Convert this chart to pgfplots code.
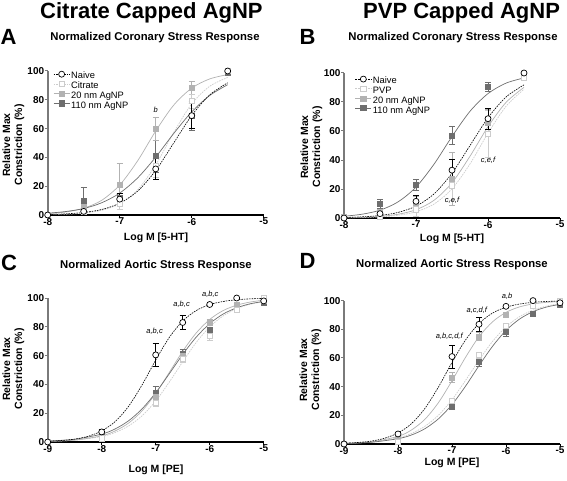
\documentclass[border=0pt]{standalone}
\usepackage{fontspec}
\setmainfont{Liberation Sans}
\usepackage{pgfplots}
\pgfplotsset{compat=1.18}
\definecolor{c20}{HTML}{B2B2B2}
\definecolor{c110}{HTML}{6E6E6E}
\definecolor{ccit}{HTML}{CCCCCC}
\definecolor{yax}{HTML}{7A7A7A}
\tikzset{ann/.style={font=\itshape\fontsize{7.5}{9}\selectfont, inner sep=0pt}}
\pgfplotsset{
 panel/.style={scale only axis, width=216pt, height=144pt, ymin=0, ymax=100,
   axis x line*=bottom, axis y line*=left, clip=false, tick align=outside,
   major tick length=3pt, ytick={0,20,40,60,80,100},
   ticklabel style={font=\bfseries\fontsize{10}{12}\selectfont},
   xticklabel style={yshift=3.5pt}, yticklabel style={xshift=3pt},
   /pgf/number format/assume math mode=true,
   x axis line style={line width=1.2pt, black}, y axis line style={line width=1.8pt, yax},
   xtick style={line width=1pt, black}, ytick style={line width=1pt, yax},
   legend cell align=left,
   legend style={draw=none, fill=none, anchor=north west, font=\fontsize{9.3}{9.4}\selectfont,
     row sep=0pt, column sep=1pt, inner sep=0pt,
     nodes={font=\fontsize{9.3}{9.4}\selectfont, inner sep=0.2pt, text height=6.9pt, text depth=2.1pt}},
   legend image code/.code={\draw[mark repeat=2,mark phase=2,##1] plot coordinates {(0pt,2.4pt) (8pt,2.4pt) (16pt,2.4pt)};}},
 sNaive/.style={black, line width=0.6pt, dash pattern=on 1.6pt off 1pt},
 sCit/.style={ccit, line width=0.7pt, dash pattern=on 1.6pt off 1pt},
 sTwenty/.style={c20, line width=0.7pt},
 sHund/.style={c110, line width=0.7pt},
 mNaive/.style={mark=*, mark size=3pt, mark options={solid, fill=white, draw=black, line width=0.7pt}},
 mCit/.style={mark=square*, mark size=2.6pt, mark options={solid, fill=white, draw=ccit, line width=0.7pt}},
 mTwenty/.style={mark=square*, mark size=2.6pt, mark options={solid, fill=c20, draw=c20}},
 mHund/.style={mark=square*, mark size=2.6pt, mark options={solid, fill=c110, draw=c110}},
 eb/.style={error bars/y dir=both, error bars/y explicit,
   error bars/error bar style={#1, line width=0.6pt, solid},
   error bars/error mark options={rotate=90, #1, mark size=3pt, line width=0.6pt}},
}
\newcommand{\ttlfont}{\bfseries\fontsize{22}{26}\selectfont}
\newcommand{\subfont}{\bfseries\fontsize{11.3}{13}\selectfont}
\newcommand{\labfont}{\bfseries\fontsize{10.5}{12}\selectfont}
\begin{document}
\begin{tikzpicture}
\path[use as bounding box] (0pt,0pt) rectangle (567pt,480pt);
% titles
\node[font=\ttlfont, anchor=west, inner sep=0pt] at (40pt,467pt) {Citrate Capped AgNP};
\node[font=\ttlfont, anchor=west, inner sep=0pt] at (363pt,467pt) {PVP Capped AgNP};
\node[font=\ttlfont] at (8.5pt,443.5pt) {A};
\node[font=\ttlfont] at (307.5pt,443pt) {B};
\node[font=\ttlfont] at (9pt,217.5pt) {C};
\node[font=\ttlfont] at (307.5pt,219pt) {D};
\node[font=\subfont] at (155pt,442.5pt) {Normalized Coronary Stress Response};
\node[font=\subfont] at (453pt,442.5pt) {Normalized Coronary Stress Response};
\node[font=\subfont] at (156pt,214pt) {Normalized Aortic Stress Response};
\node[font=\subfont] at (452pt,215pt) {Normalized Aortic Stress Response};
% axis labels
\node[font=\labfont, rotate=90, align=center] at (13.5pt,335pt) {Relative Max\\Constriction (\%)};
\node[font=\labfont, rotate=90, align=center] at (311.5pt,333pt) {Relative Max\\Constriction (\%)};
\node[font=\labfont, rotate=90, align=center] at (13.5pt,111pt) {Relative Max\\Constriction (\%)};
\node[font=\labfont, rotate=90, align=center] at (310.5pt,110pt) {Relative Max\\Constriction (\%)};
\node[font=\labfont] at (156pt,242pt) {Log M [5-HT]};
\node[font=\labfont] at (452pt,241pt) {Log M [5-HT]};
\node[font=\labfont] at (156pt,10pt) {Log M [PE]};
\node[font=\labfont] at (452pt,17pt) {Log M [PE]};

% ---------------- A
\begin{axis}[panel, at={(47.7pt,265pt)}, anchor=south west, xmin=-8, xmax=-5, xtick={-8,-7,-6,-5},
  legend style={at={(axis description cs:0.025,1.0)}}]
\addplot[sCit, smooth, forget plot] coordinates {(-8,0.21)(-7.75,0.53)(-7.5,1.32)(-7.25,3.26)(-7,7.8)(-6.75,17.5)(-6.5,34.8)(-6.25,57.3)(-6,77.2)(-5.75,89.4)(-5.5,95.5)};
\addplot[sTwenty, smooth, forget plot] coordinates {(-8,0.92)(-7.75,2.1)(-7.5,4.7)(-7.25,10.2)(-7,20.8)(-6.75,37.7)(-6.5,58.3)(-6.25,76.3)(-6,88.1)(-5.75,94.5)(-5.5,97.5)};
\addplot[sHund, smooth, forget plot] coordinates {(-8,1.25)(-7.75,2.4)(-7.5,4.5)(-7.25,8.5)(-7,15.2)(-6.75,25.8)(-6.5,40.2)(-6.25,56.6)(-6,71.6)(-5.75,83.0)(-5.5,90.5)};
\addplot[sNaive, smooth, forget plot] coordinates {(-8,0.35)(-7.75,0.79)(-7.5,1.75)(-7.25,3.83)(-7,8.2)(-6.75,16.6)(-6.5,30.9)(-6.25,50)(-6,69.1)(-5.75,83.4)(-5.5,91.8)};
\addplot[only marks, mHund, eb=c110, forget plot] coordinates {(-8,0) +- (0,0) (-7.5,10) +- (0,9.5) (-7,12) +- (0,3) (-6.5,41) +- (0,11) (-6,69) +- (0,10) (-5.5,99) +- (0,0)};
\addplot[only marks, mTwenty, eb=c20, forget plot] coordinates {(-8,0) +- (0,0) (-7.5,6) +- (0,4) (-7,21) +- (0,15) (-6.5,60) +- (0,8) (-6,88.5) +- (0,4.5) (-5.5,100) +- (0,0)};
\addplot[only marks, mCit, eb=ccit, forget plot] coordinates {(-8,0) +- (0,0) (-7.5,2) +- (0,1) (-7,8) +- (0,4) (-6.5,34) +- (0,8) (-6,79) +- (0,5) (-5.5,100) +- (0,0)};
\addplot[only marks, mNaive, eb=black, forget plot] coordinates {(-8,0) +- (0,0) (-7.5,2.5) +- (0,1) (-7,11) +- (0,4) (-6.5,32) +- (0,7.5) (-6,69) +- (0,8.5) (-5.5,100) +- (0,0)};
\node[ann] at (axis cs:-6.5,73) {b};
\addlegendimage{sNaive, mNaive}\addlegendentry{Naive}
\addlegendimage{sCit, mCit}\addlegendentry{Citrate}
\addlegendimage{sTwenty, mTwenty}\addlegendentry{20 nm AgNP}
\addlegendimage{sHund, mHund}\addlegendentry{110 nm AgNP}
\end{axis}

% ---------------- B
\begin{axis}[panel, at={(344pt,262pt)}, anchor=south west, xmin=-8, xmax=-5, xtick={-8,-7,-6,-5}, height=145pt,
  legend style={at={(axis description cs:0.05,0.98)}}]
\addplot[sCit, smooth, forget plot] coordinates {(-8,0.14)(-7.75,0.33)(-7.5,0.79)(-7.25,1.85)(-7,4.3)(-6.75,9.6)(-6.5,20.1)(-6.25,37.3)(-6,58.5)(-5.75,77.0)(-5.5,88.8)};
\addplot[sTwenty, smooth, forget plot] coordinates {(-8,0.21)(-7.75,0.49)(-7.5,1.13)(-7.25,2.56)(-7,5.7)(-6.75,12.2)(-6.5,24.3)(-6.25,42.6)(-6,63.0)(-5.75,79.7)(-5.5,90.1)};
\addplot[sHund, smooth, forget plot] coordinates {(-8,1.2)(-7.75,2.6)(-7.5,5.4)(-7.25,11.1)(-7,21.3)(-6.75,37.1)(-6.5,56.2)(-6.25,73.6)(-6,85.8)(-5.75,93.0)(-5.5,96.6)};
\addplot[sNaive, smooth, forget plot] coordinates {(-8,0.35)(-7.75,0.79)(-7.5,1.75)(-7.25,3.83)(-7,8.2)(-6.75,16.6)(-6.5,30.9)(-6.25,50)(-6,69.1)(-5.75,83.4)(-5.5,91.8)};
\addplot[only marks, mHund, eb=c110, forget plot] coordinates {(-8,1) +- (0,0) (-7.5,10) +- (0,3) (-7,23) +- (0,4) (-6.5,57) +- (0,6) (-6,90.5) +- (0,3) (-5.5,97.5) +- (0,1)};
\addplot[only marks, mTwenty, eb=c20, forget plot] coordinates {(-8,0.5) +- (0,0) (-7.5,4) +- (0,2) (-7,10) +- (0,5) (-6.5,27) +- (0,18) (-6,66) +- (0,9) (-5.5,97) +- (0,0)};
\addplot[only marks, mCit, eb=ccit, forget plot] coordinates {(-8,0) +- (0,0) (-7.5,1) +- (0,1) (-7,6) +- (0,5) (-6.5,22.5) +- (0,10) (-6,58) +- (0,16) (-5.5,97) +- (0,0)};
\addplot[only marks, mNaive, eb=black, forget plot] coordinates {(-8,0) +- (0,0) (-7.5,3) +- (0,1) (-7,11.5) +- (0,4) (-6.5,33) +- (0,7.5) (-6,68.5) +- (0,7) (-5.5,100) +- (0,0)};
\node[ann] at (axis cs:-6,40) {c,e,f};
\node[ann] at (axis cs:-6.5,12) {c,e,f};
\addlegendimage{sNaive, mNaive}\addlegendentry{Naive}
\addlegendimage{sCit, mCit}\addlegendentry{PVP}
\addlegendimage{sTwenty, mTwenty}\addlegendentry{20 nm AgNP}
\addlegendimage{sHund, mHund}\addlegendentry{110 nm AgNP}
\end{axis}

% ---------------- C
\begin{axis}[panel, at={(47.7pt,38pt)}, anchor=south west, xmin=-9, xmax=-5, xtick={-9,-8,-7,-6,-5}]
\addplot[sCit, smooth, forget plot] coordinates {(-9,0.4)(-8.5,1.24)(-8,3.8)(-7.75,6.6)(-7.5,11.2)(-7.25,18.3)(-7,28.5)(-6.75,41.5)(-6.5,55.7)(-6.25,69.1)(-6,79.9)(-5.75,87.6)(-5.5,92.6)(-5.25,95.7)(-5,97.5)};
\addplot[sTwenty, smooth, forget plot] coordinates {(-9,0.4)(-8.5,1.33)(-8,4.3)(-7.75,7.7)(-7.5,13.2)(-7.25,21.7)(-7,33.7)(-6.75,48.2)(-6.5,63.0)(-6.25,75.7)(-6,85.1)(-5.75,91.3)(-5.5,95.0)(-5.25,97.2)(-5,98.5)};
\addplot[sHund, smooth, forget plot] coordinates {(-9,0.65)(-8.5,1.9)(-8,5.5)(-7.75,9.1)(-7.5,14.8)(-7.25,23.1)(-7,34.2)(-6.75,47.3)(-6.5,60.8)(-6.25,72.8)(-6,82.2)(-5.75,88.9)(-5.5,93.2)(-5.25,96.0)(-5,97.6)};
\addplot[sNaive, smooth, forget plot] coordinates {(-9,0.52)(-8.75,1.04)(-8.5,2.0)(-8.25,4.0)(-8,7.7)(-7.75,14.2)(-7.5,24.9)(-7.25,39.8)(-7,56.9)(-6.75,72.5)(-6.5,84.0)(-6.25,91.3)(-6,95.4)(-5.75,97.6)(-5.5,98.8)(-5.25,99.4)(-5,99.7)};
\addplot[only marks, mHund, eb=c110, forget plot] coordinates {(-9,0) +- (0,0) (-8,4) +- (0,0.5) (-7,34.5) +- (0,4) (-6.5,61.5) +- (0,3) (-6,77.5) +- (0,2) (-5.5,93) +- (0,1) (-5,97) +- (0,0)};
\addplot[only marks, mTwenty, eb=c20, forget plot] coordinates {(-9,0) +- (0,0) (-8,3) +- (0,0.5) (-7,31.5) +- (0,3) (-6.5,60) +- (0,2) (-6,83) +- (0,2) (-5.5,95.5) +- (0,1) (-5,98.5) +- (0,0)};
\addplot[only marks, mCit, eb=ccit, forget plot] coordinates {(-9,0) +- (0,0) (-8,2.5) +- (0,0.5) (-7,27) +- (0,2) (-6.5,57.5) +- (0,2) (-6,73.5) +- (0,3) (-5.5,92) +- (0,1) (-5,100) +- (0,0)};
\addplot[only marks, mNaive, eb=black, forget plot] coordinates {(-9,0) +- (0,0) (-8,7) +- (0,1.5) (-7,60.5) +- (0,8) (-6.5,83) +- (0,5) (-6,95.5) +- (0,0.5) (-5.5,100) +- (0,0) (-5,98) +- (0,0)};
\node[ann] at (axis cs:-7.02,77) {a,b,c};
\node[ann] at (axis cs:-6.52,95.4) {a,b,c};
\node[ann] at (axis cs:-5.99,102.8) {a,b,c};
\end{axis}

% ---------------- D
\begin{axis}[panel, at={(344pt,36pt)}, anchor=south west, xmin=-9, xmax=-5, xtick={-9,-8,-7,-6,-5}, height=143.4pt]
\addplot[sCit, smooth, forget plot] coordinates {(-9,0.45)(-8.5,1.4)(-8,4.3)(-7.75,7.4)(-7.5,12.4)(-7.25,20.1)(-7,30.9)(-6.75,44.3)(-6.5,58.5)(-6.25,71.5)(-6,81.7)(-5.75,88.8)(-5.5,93.4)(-5.25,96.2)(-5,97.8)};
\addplot[sTwenty, smooth, forget plot] coordinates {(-9,0.39)(-8.5,1.46)(-8,5.3)(-7.75,9.8)(-7.5,17.3)(-7.25,28.9)(-7,44.1)(-6.75,60.4)(-6.5,74.8)(-6.25,85.2)(-6,91.8)(-5.75,95.6)(-5.5,97.7)(-5.25,98.8)(-5,99.4)};
\addplot[sHund, smooth, forget plot] coordinates {(-9,0.38)(-8.5,1.19)(-8,3.7)(-7.75,6.3)(-7.5,10.7)(-7.25,17.6)(-7,27.5)(-6.75,40.3)(-6.5,54.6)(-6.25,68.1)(-6,79.2)(-5.75,87.1)(-5.5,92.3)(-5.25,95.5)(-5,97.4)};
\addplot[sNaive, smooth, forget plot] coordinates {(-9,0.52)(-8.75,1.04)(-8.5,2.0)(-8.25,4.0)(-8,7.7)(-7.75,14.2)(-7.5,24.9)(-7.25,39.8)(-7,56.9)(-6.75,72.5)(-6.5,84.0)(-6.25,91.3)(-6,95.4)(-5.75,97.6)(-5.5,98.8)(-5.25,99.4)(-5,99.7)};
\addplot[only marks, mHund, eb=c110, forget plot] coordinates {(-9,0) +- (0,0) (-8,3) +- (0,0.5) (-7,27) +- (0,3) (-6.5,57.5) +- (0,3.5) (-6,78.5) +- (0,3.5) (-5.5,91) +- (0,1) (-5,97) +- (0,0)};
\addplot[only marks, mTwenty, eb=c20, forget plot] coordinates {(-9,0) +- (0,0) (-8,4) +- (0,0.5) (-7,46.5) +- (0,3.5) (-6.5,75) +- (0,3) (-6,90) +- (0,1) (-5.5,97) +- (0,1) (-5,99) +- (0,0)};
\addplot[only marks, mCit, eb=ccit, forget plot] coordinates {(-9,0) +- (0,0) (-8,1.5) +- (0,0.5) (-7,30) +- (0,2) (-6.5,62) +- (0,2) (-6,82.5) +- (0,2) (-5.5,96.5) +- (0,1) (-5,100) +- (0,0)};
\addplot[only marks, mNaive, eb=black, forget plot] coordinates {(-9,0) +- (0,0) (-8,7) +- (0,1.5) (-7,61) +- (0,8) (-6.5,83.5) +- (0,5) (-6,96) +- (0,0.5) (-5.5,100) +- (0,0) (-5,98.5) +- (0,0)};
\node[ann] at (axis cs:-7.05,75) {a,b,c,d,f};
\node[ann] at (axis cs:-6.54,93.5) {a,c,d,f};
\node[ann] at (axis cs:-5.98,102.8) {a,b};
\end{axis}
\end{tikzpicture}
\end{document}
